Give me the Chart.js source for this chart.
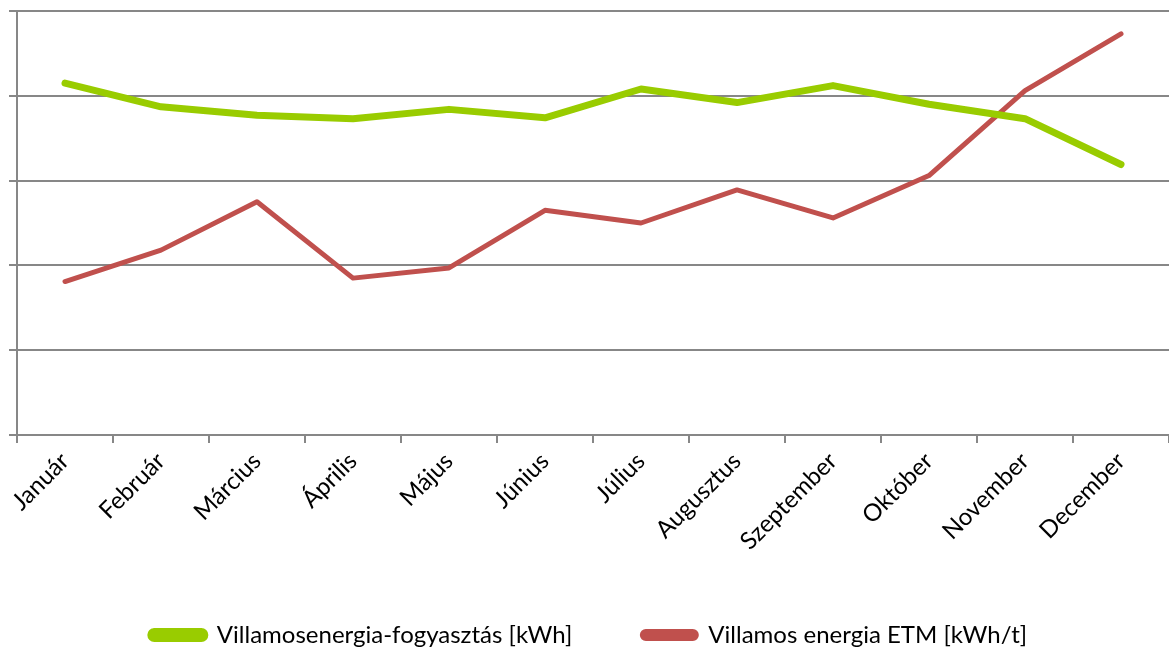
<!DOCTYPE html>
<html>
<head>
<meta charset="utf-8">
<script src="https://cdn.jsdelivr.net/npm/chart.js@4.4.0/dist/chart.umd.min.js"></script>
<style>
  html, body { margin: 0; padding: 0; background: #fff; }
  #wrap { width: 1169px; height: 649px; }
</style>
</head>
<body>
<div id="wrap"><canvas id="chart"></canvas></div>
<script>
// hónapok
const months = ['Január', 'Február', 'Március', 'Április', 'Május', 'Június',
                'Július', 'Augusztus', 'Szeptember', 'Október', 'November', 'December'];

// értékek (tengely skála nélkül, 0..5 egység)
const consumption = [4.15, 3.87, 3.77, 3.73, 3.84, 3.74, 4.08, 3.92, 4.12, 3.90, 3.73, 3.19];
const etm = [1.81, 2.18, 2.75, 1.85, 1.97, 2.65, 2.50, 2.89, 2.56, 3.06, 4.06, 4.73];

const green = '#99CC00';
const red = '#C0504D';
const gridColor = '#878787';

const ctx = document.getElementById('chart').getContext('2d');
const chart = new Chart(ctx, {
    type: 'line',
    data: {
        labels: months,
        datasets: [
            {
                label: 'Villamosenergia-fogyasztás [kWh]',
                data: consumption,
                borderColor: green,
                backgroundColor: green,
                borderWidth: 7,
                borderCapStyle: 'round',
                borderJoinStyle: 'round',
                pointRadius: 0,
                tension: 0
            },
            {
                label: 'Villamos energia ETM [kWh/t]',
                data: etm,
                borderColor: red,
                backgroundColor: red,
                borderWidth: 5,
                borderCapStyle: 'round',
                borderJoinStyle: 'round',
                pointRadius: 0,
                tension: 0
            }
        ]
    },
    options: {
        responsive: true,
        maintainAspectRatio: false,
        animation: false,
        layout: { padding: { left: 9, right: 0, top: 11, bottom: -8 } },
        scales: {
            x: {
                offset: true,
                grid: {
                    offset: true,
                    drawOnChartArea: false,
                    drawTicks: true,
                    tickLength: 8,
                    color: gridColor,
                    lineWidth: 2
                },
                border: { color: gridColor, width: 2 },
                ticks: {
                    minRotation: 45,
                    maxRotation: 45,
                    autoSkip: false,
                    color: '#000',
                    padding: 4,
                    font: { family: 'Lato', size: 24 }
                },
                // fix the axis height so the plot bottom lands where it should
                afterFit: (scale) => { scale.height = 118; }
            },
            y: {
                min: 0,
                max: 5,
                grid: {
                    color: gridColor,
                    lineWidth: 2,
                    drawTicks: true,
                    tickLength: 8
                },
                border: { color: gridColor, width: 2 },
                ticks: { display: false, stepSize: 1 }
            }
        },
        plugins: {
            legend: {
                display: true,
                position: 'bottom',
                labels: {
                    boxWidth: 54,
                    boxHeight: 7,
                    useBorderRadius: true,
                    borderRadius: 3.5,
                    padding: 70,
                    color: '#000',
                    font: { family: 'Lato', size: 24 }
                }
            },
            tooltip: { enabled: false }
        }
    }
});
</script>
</body>
</html>
